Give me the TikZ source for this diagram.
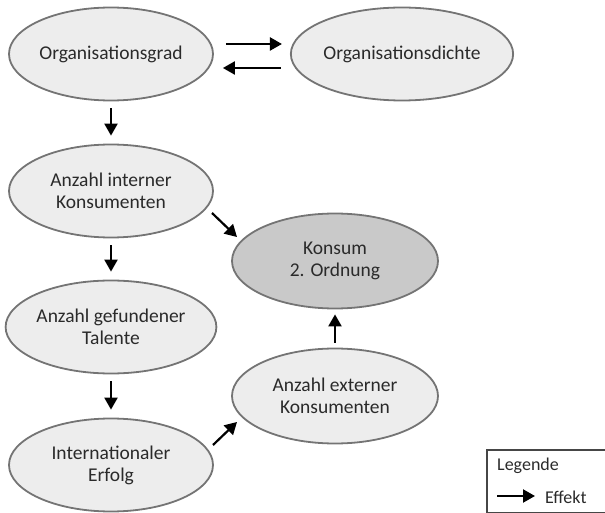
\documentclass[tikz,border=0pt]{standalone}
\usepackage{fontspec}
\setmainfont{Carlito}
\usetikzlibrary{shapes.geometric,arrows.meta,calc}
\definecolor{ellfill}{HTML}{EDEDED}
\definecolor{ellfilldark}{HTML}{C9C9C9}
\definecolor{elldraw}{HTML}{747474}
\definecolor{txt}{HTML}{2A2A2A}
\tikzset{
  ell/.style={ellipse, draw=elldraw, line width=1.8pt, fill=ellfill, inner sep=0pt,
    minimum width=204pt, minimum height=93pt, align=center, text=txt,
    font=\fontsize{19.5}{22}\selectfont},
  ellk/.style={ell, fill=ellfilldark},
  eff/.style={line width=2.2pt, -{Triangle[length=12pt,width=13pt]}},
  legtext/.style={anchor=west, text=txt, font=\fontsize{18}{21}\selectfont, inner sep=0pt},
}
\begin{document}
\begin{tikzpicture}[x=1pt,y=-1pt]
\useasboundingbox (0,0) rectangle (605,513);
\clip (0,0) rectangle (605,513);
\node[ell] (og) at (111,54) {Organisationsgrad};
\node[ell, minimum width=208pt] (od) at (402,54) {Organisationsdichte};
\node[ell] (ai) at (111,191) {Anzahl interner\\Konsumenten};
\node[ellk, minimum width=206pt, minimum height=95pt] (k) at (335,261) {Konsum\\2. Ordnung};
\node[ell] (ag) at (111,327) {Anzahl gefundener\\Talente};
\node[ell, minimum width=206pt, minimum height=95pt] (ex) at (335,396) {Anzahl externer\\Konsumenten};
\node[ell] (ie) at (111,465) {Internationaler\\Erfolg};

\draw[eff] ($(og.east)+(12,-10)$) -- ($(od.west)+(-8,-10)$);
\draw[eff] ($(od.west)+(-9,14)$) -- ($(og.east)+(9,14)$);
\draw[eff] ($(og.south)+(0,7)$) -- ($(ai.north)+(0,-8)$);
\draw[eff] ($(ai.south)+(0,7)$) -- ($(ag.north)+(0,-8)$);
\draw[eff] ($(ag.south)+(0,7)$) -- ($(ie.north)+(0,-8)$);
\draw[eff] ($(ai.center)+(101,22)$) -- ($(k.center)+(-98,-24)$);
\draw[eff] ($(ie.center)+(102,-20)$) -- ($(ex.center)+(-98,26)$);
\draw[eff] ($(ex.north)+(0,-5)$) -- ($(k.south)+(0,5)$);

\node[draw=elldraw!60!black, line width=2pt, minimum width=140pt, minimum height=63pt, anchor=north west, inner sep=0pt] (leg) at (486,449) {};
\node[legtext] (legt) at (497,466) {Legende};
\coordinate (la) at (497,496);
\coordinate (lb) at (535,496);
\draw[eff] (la) -- (lb);
\node[legtext] (lefk) at (545,497) {Effekt};
\end{tikzpicture}
\end{document}
